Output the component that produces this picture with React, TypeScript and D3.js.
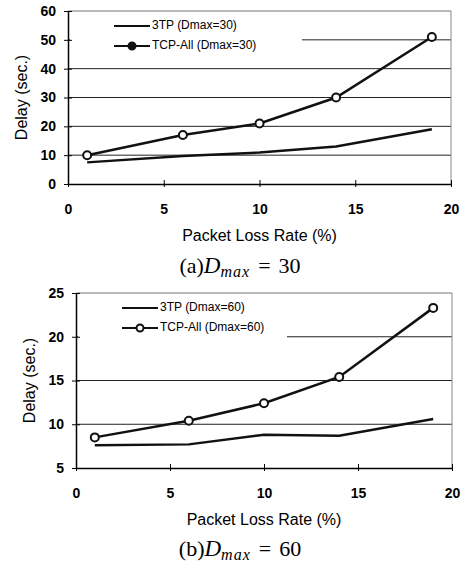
import { useEffect, useRef } from 'react'
import * as d3 from 'd3'

// Packet loss rates (%) on the x axis
const lossRates = [1, 6, 10, 14, 19]

// Panel (a): Dmax = 30
const tcpAll30 = [10, 17, 21, 30, 51]
const tp30 = [7.5, 9.7, 10.9, 13, 19]
const yTicks30 = [0, 10, 20, 30, 40, 50, 60]

// Panel (b): Dmax = 60
const tcpAll60 = [8.5, 10.4, 12.4, 15.4, 23.3]
const tp60 = [7.6, 7.7, 8.8, 8.7, 10.6]
const yTicks60 = [5, 10, 15, 20, 25]

const xTicks = [0, 5, 10, 15, 20]

interface PanelProps {
  top: number
  left: number
  right: number
  height: number
  yDomain: [number, number]
  yTicks: number[]
  tp: number[]
  tcp: number[]
  dmax: number
  tag: string
  legendBox: { w: number; h: number }
  legendFilled: boolean
  captionY: number
}

const FONT = '"Liberation Sans", Arial, sans-serif'
const SERIF = '"Liberation Serif", "Times New Roman", serif'

const Panel: React.FC<PanelProps> = ({
  top, left, right, height, yDomain, yTicks, tp, tcp, dmax, tag, legendBox, legendFilled, captionY
}) => {
  const gRef = useRef<SVGGElement>(null)

  useEffect(() => {
    if (!gRef.current) return
    const g = d3.select(gRef.current)
    g.selectAll('*').remove()

    const x = d3.scaleLinear().domain([0, 20]).range([left, right])
    const y = d3.scaleLinear().domain(yDomain).range([top + height, top])

    // grid lines
    g.append('g')
      .selectAll('line')
      .data(yTicks.slice(1))
      .join('line')
      .attr('x1', left)
      .attr('x2', right)
      .attr('y1', d => y(d))
      .attr('y2', d => y(d))
      .attr('stroke', d => (d === yDomain[1] ? '#777' : '#222'))
      .attr('stroke-width', 1)

    // right border, faint
    g.append('line')
      .attr('x1', right).attr('x2', right)
      .attr('y1', top).attr('y2', top + height)
      .attr('stroke', '#888')

    // legend background hides grid lines behind it
    g.append('rect')
      .attr('x', left + 2)
      .attr('y', top + 2)
      .attr('width', legendBox.w)
      .attr('height', legendBox.h)
      .attr('fill', '#fff')

    // axes
    const yAxis = d3.axisLeft(y).tickValues(yTicks).tickSizeInner(4).tickSizeOuter(0).tickPadding(8)
    const yG = g.append('g').attr('transform', `translate(${left},0)`).call(yAxis)
    yG.selectAll('.tick line').attr('x2', 4).attr('x1', -4)
    yG.select('.domain').attr('stroke-width', 1.5)
    yG.selectAll('text')
      .style('font-family', FONT)
      .style('font-size', '14px')
      .style('font-weight', 'bold')

    const xAxis = d3.axisBottom(x).tickValues(xTicks).tickSizeInner(4).tickSizeOuter(0).tickPadding(16)
    const xG = g.append('g').attr('transform', `translate(0,${top + height})`).call(xAxis)
    xG.selectAll('.tick line').attr('y1', -4).attr('y2', 3)
    xG.select('.domain').attr('stroke-width', 1.5)
    xG.selectAll('text')
      .style('font-family', FONT)
      .style('font-size', '14px')
      .style('font-weight', 'bold')

    const line = d3.line<number>()
      .x((_, i) => x(lossRates[i]))
      .y(d => y(d))

    g.append('path')
      .datum(tp)
      .attr('fill', 'none')
      .attr('stroke', '#111')
      .attr('stroke-width', 2.5)
      .attr('d', line)

    g.append('path')
      .datum(tcp)
      .attr('fill', 'none')
      .attr('stroke', '#111')
      .attr('stroke-width', 2.5)
      .attr('d', line)

    g.append('g')
      .selectAll('circle')
      .data(tcp)
      .join('circle')
      .attr('cx', (_, i) => x(lossRates[i]))
      .attr('cy', d => y(d))
      .attr('r', 4)
      .attr('fill', '#fff')
      .attr('stroke', '#111')
      .attr('stroke-width', 2)

    // legend
    const lx = left + 46
    const items = [
      { label: `3TP (Dmax=${dmax})`, marker: false, dy: 15 },
      { label: `TCP-All (Dmax=${dmax})`, marker: true, dy: 35 },
    ]
    items.forEach(it => {
      const ly = top + it.dy
      g.append('line')
        .attr('x1', lx).attr('x2', lx + 36)
        .attr('y1', ly).attr('y2', ly)
        .attr('stroke', '#111')
        .attr('stroke-width', 2.2)
      if (it.marker) {
        g.append('circle')
          .attr('cx', lx + 18).attr('cy', ly)
          .attr('r', 3.5)
          .attr('fill', legendFilled ? '#111' : '#fff')
          .attr('stroke', '#111')
          .attr('stroke-width', 2)
      }
      g.append('text')
        .attr('x', lx + 38)
        .attr('y', ly)
        .attr('dominant-baseline', 'middle')
        .style('font-family', FONT)
        .style('font-size', '12px')
        .text(it.label)
    })

    // axis titles
    g.append('text')
      .attr('transform', `translate(${left - 45},${top + height / 2}) rotate(-90)`)
      .attr('text-anchor', 'middle')
      .attr('dominant-baseline', 'middle')
      .style('font-family', FONT)
      .style('font-size', '16px')
      .text('Delay (sec.)')

    g.append('text')
      .attr('x', (left + right) / 2)
      .attr('y', top + height + 53)
      .attr('text-anchor', 'middle')
      .attr('dominant-baseline', 'middle')
      .style('font-family', FONT)
      .style('font-size', '16px')
      .text('Packet Loss Rate (%)')

    // caption
    const cap = g.append('text')
      .attr('x', 240)
      .attr('y', captionY)
      .attr('text-anchor', 'middle')
      .style('font-family', SERIF)
      .style('font-size', '22px')
    cap.append('tspan').text(`(${tag})`)
    cap.append('tspan').style('font-style', 'italic').style('font-size', '23px').text('D')
    cap.append('tspan').style('font-style', 'italic').style('font-size', '16px').style('letter-spacing', '1px').attr('dy', 4).text('max')
    cap.append('tspan').attr('dy', -4).attr('dx', 8).text('=')
    cap.append('tspan').attr('dx', 8).text(`${dmax}`)
  }, [top, left, right, height, yDomain, yTicks, tp, tcp, dmax, tag, legendBox, legendFilled, captionY])

  return <g ref={gRef} />
}

export default function App() {
  return (
    <div style={{ position: 'absolute', left: 0, top: 0 }}>
      <svg width={464} height={567} style={{ background: '#fff', display: 'block' }}>
        <Panel
          top={11}
          left={68}
          right={451}
          height={173}
          yDomain={[0, 60]}
          yTicks={yTicks30}
          tp={tp30}
          tcp={tcpAll30}
          dmax={30}
          tag="a"
          legendBox={{ w: 232, h: 44 }}
          legendFilled={true}
          captionY={273}
        />
        <Panel
          top={293}
          left={76}
          right={452}
          height={175}
          yDomain={[5, 25]}
          yTicks={yTicks60}
          tp={tp60}
          tcp={tcpAll60}
          dmax={60}
          tag="b"
          legendBox={{ w: 209, h: 50 }}
          legendFilled={false}
          captionY={556}
        />
      </svg>
    </div>
  )
}
